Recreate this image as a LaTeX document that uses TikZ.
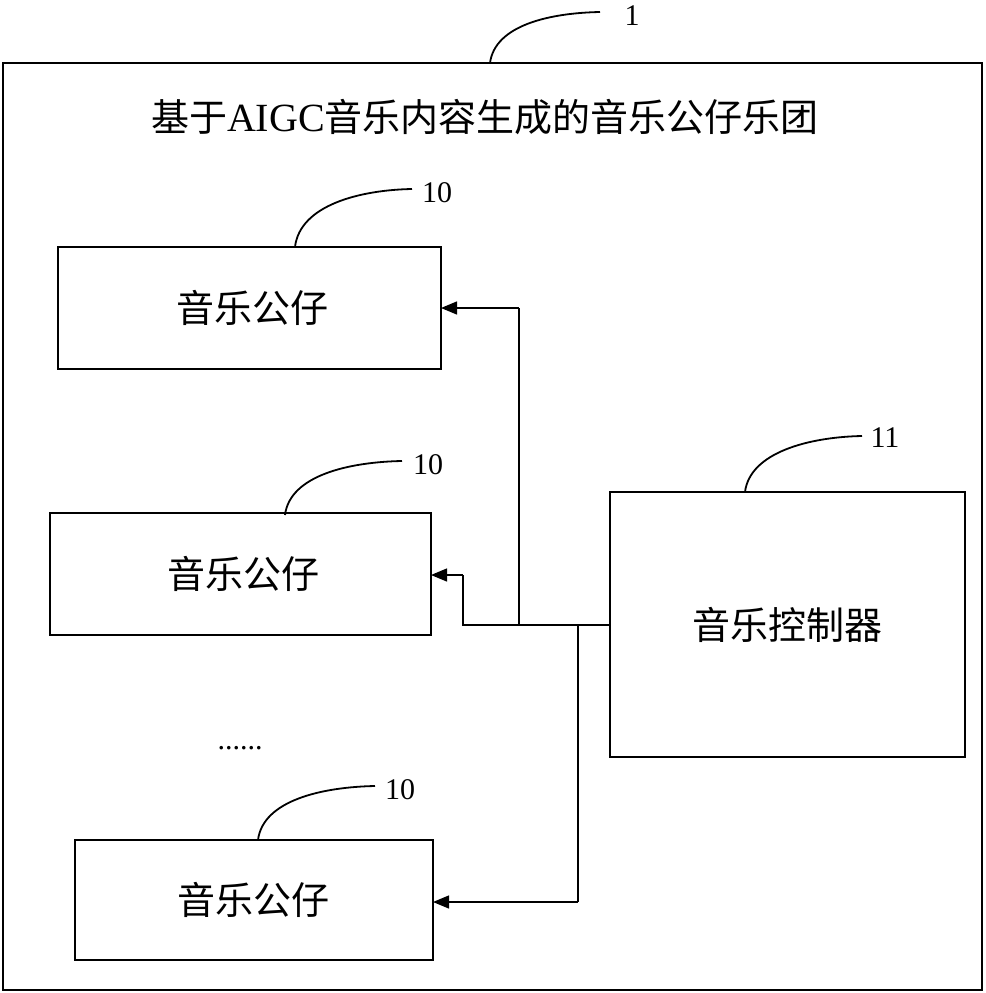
\documentclass[tikz,border=0pt]{standalone}
\usepackage{fontspec}
\setmainfont{Liberation Serif}
\newfontfamily\cjk{Noto Sans CJK SC}
\usetikzlibrary{arrows.meta}
\begin{document}
\begin{tikzpicture}[x=1pt,y=-1pt,line width=1.3pt,
  lbl/.style={font=\cjk\fontsize{38}{38}\selectfont},
  num/.style={font=\fontsize{30}{30}\selectfont},
  arr/.style={-{Triangle[length=16pt,width=13pt]}},
  lead/.style={line width=1.8pt}]
\useasboundingbox (0,0) rectangle (985,993);
\draw (3,63) rectangle (982,990);
\node[font=\cjk\fontsize{38}{38}\selectfont] (title) at (485,117) {基于{\fontspec{Liberation Serif}\fontsize{40}{40}\selectfont AIGC}音乐内容生成的音乐公仔乐团};
\draw (58,247) rectangle (441,369); \node[lbl] (a) at (252,308) {音乐公仔};
\draw (50,513) rectangle (431,635); \node[lbl] (b) at (243,574) {音乐公仔};
\draw (75,840) rectangle (433,960); \node[lbl] (c) at (253,900) {音乐公仔};
\draw (610,492) rectangle (965,757); \node[lbl] (d) at (787,625) {音乐控制器};
\draw (610,625) -- (463,625) -- (463,575);
\draw[arr] (463,575) -- (431,575);
\draw (519,625) -- (519,308);
\draw[arr] (519,308) -- (441,308);
\draw (578,625) -- (578,902);
\draw[arr] (578,902) -- (433,902);
\node[font=\fontsize{30}{30}\selectfont] (dots) at (240,748) {......};
\node[num] (n1) at (632,16) {1};
\draw[lead] (490,63) .. controls (495,25) and (550,13) .. (600,12);
\node[num] (n2) at (437,193) {10};
\draw[lead] (295,247) .. controls (300,205) and (360,190) .. (412,189);
\node[num] (n3) at (428,465) {10};
\draw[lead] (285,515) .. controls (290,475) and (350,462) .. (402,461);
\node[num] (n4) at (400,790) {10};
\draw[lead] (258,840) .. controls (263,800) and (323,787) .. (375,786);
\node[num] (n5) at (885,438) {11};
\draw[lead] (745,492) .. controls (750,452) and (810,437) .. (862,436);
\end{tikzpicture}
\end{document}
